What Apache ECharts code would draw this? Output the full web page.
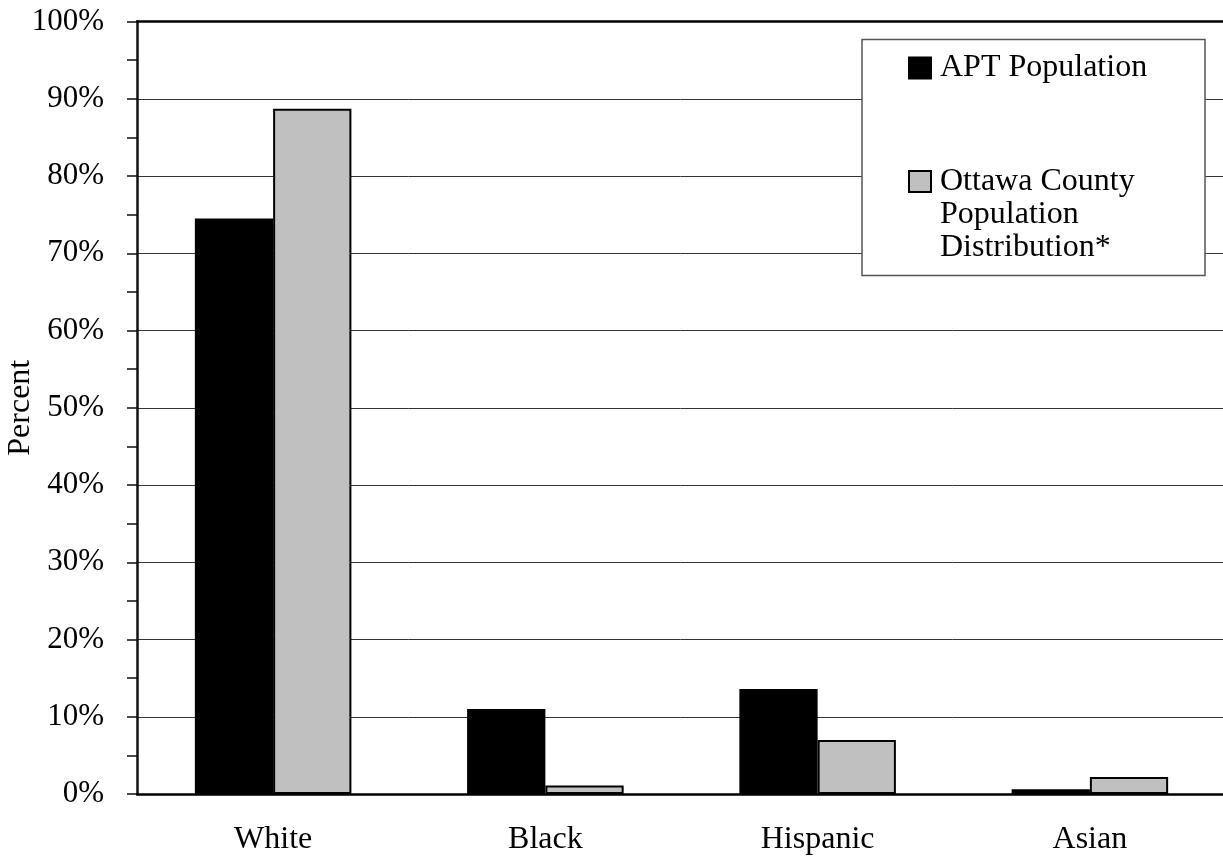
<!DOCTYPE html>
<html>
<head>
<meta charset="utf-8">
<style>
  html, body { margin: 0; padding: 0; background: #fff; }
  #chart { width: 1223px; height: 858px; }
</style>
<script src="https://cdn.jsdelivr.net/npm/echarts@6/dist/echarts.min.js"></script>
</head>
<body>
<div id="chart"></div>
<script>
const categories = ['White', 'Black', 'Hispanic', 'Asian'];
const aptPopulation = [74.5, 11.0, 13.6, 0.6];
const ottawaPopulation = [88.7, 1.1, 7.0, 2.2];
const seriesNames = ['APT Population', 'Ottawa County Population Distribution*'];
const yTicks = [0, 10, 20, 30, 40, 50, 60, 70, 80, 90, 100];

const FONT = 'Liberation Serif';
const chart = echarts.init(document.getElementById('chart'));

chart.setOption({
  backgroundColor: '#fff',
  animation: false,
  grid: { left: 137, right: -3, top: 21.5, bottom: 64, containLabel: false, outerBoundsMode: 'none' },
  xAxis: [
    {
      type: 'category', data: categories, position: 'bottom',
      axisLine: { onZero: false, lineStyle: { color: '#000', width: 2.5 } },
      axisTick: { show: false },
      axisLabel: { color: '#000', fontFamily: FONT, fontSize: 32, margin: 30 }
    },
    {
      type: 'category', data: categories, position: 'top',
      axisLine: { onZero: false, lineStyle: { color: '#000', width: 2.5 } },
      axisTick: { show: false },
      axisLabel: { show: false }
    }
  ],
  yAxis: [
    {
      type: 'value', min: yTicks[0], max: yTicks[yTicks.length - 1], interval: 10,
      position: 'left', offset: 0,
      name: 'Percent', nameLocation: 'middle', nameGap: 100, nameRotate: 90, nameMoveOverlap: false,
      nameTextStyle: { color: '#000', fontFamily: FONT, fontSize: 32 },
      axisLine: { show: true, onZero: false, lineStyle: { color: '#111', width: 2.5 } },
      axisTick: { show: true, inside: false, length: 10, lineStyle: { color: '#111', width: 1.5 } },
      minorTick: { show: true, splitNumber: 2, length: 10, lineStyle: { color: '#111', width: 1.5 } },
      axisLabel: { color: '#000', fontFamily: FONT, fontSize: 31, margin: 33, formatter: '{value}%' },
      splitLine: { show: true, lineStyle: { color: '#333', width: 1 } }
    }
  ],
  graphic: [
    {
      type: 'rect', z: 10,
      shape: { x: 862, y: 39.5, width: 343, height: 236 },
      style: { fill: '#fff', stroke: '#555', lineWidth: 1.5 }
    }
  ],
  legend: [
    {
      z: 20, data: [seriesNames[0]], left: 908, top: 52, padding: 0,
      icon: 'rect', itemWidth: 22, itemHeight: 21,
      textStyle: { color: '#000', fontFamily: FONT, fontSize: 32, padding: [0, 0, 0, 4] }
    },
    {
      z: 20, data: [seriesNames[1]], left: 908, top: 99, padding: 0,
      icon: 'rect', itemWidth: 22, itemHeight: 21,
      formatter: function () { return ' \n \nOttawa County\nPopulation\nDistribution*'; },
      textStyle: { color: '#000', fontFamily: FONT, fontSize: 32, lineHeight: 33, padding: [0, 0, 0, 4] }
    }
  ],
  series: [
    {
      name: seriesNames[0], type: 'bar', data: aptPopulation,
      barGap: '0%', barCategoryGap: '42.5%',
      itemStyle: { color: '#000', borderColor: '#000', borderWidth: 1.5 }
    },
    {
      name: seriesNames[1], type: 'bar', data: ottawaPopulation,
      barGap: '0%', barCategoryGap: '42.5%',
      itemStyle: { color: '#C0C0C0', borderColor: '#000', borderWidth: 2 }
    }
  ]
});
</script>
</body>
</html>
